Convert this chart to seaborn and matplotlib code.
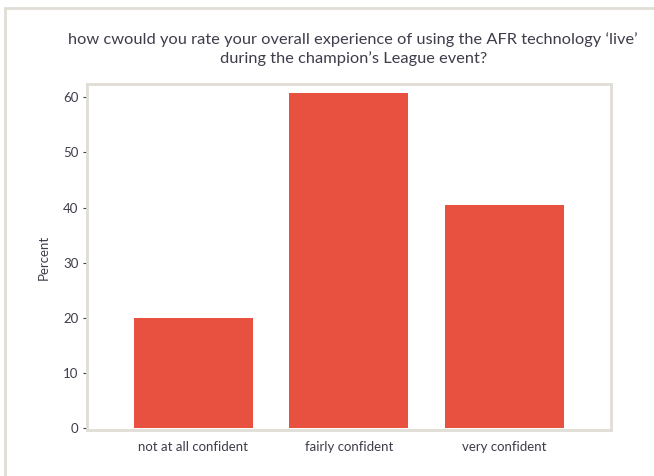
import matplotlib
matplotlib.use("Agg")
import matplotlib.pyplot as plt
import seaborn as sns
import pandas as pd
from matplotlib.lines import Line2D

categories = ["not at all confident", "fairly confident", "very confident"]
percent = [20.0, 60.7, 40.4]

bar_color = "#e85140"
frame_color = "#e0ddd6"
text_color = "#3d3d4b"

sns.set_style("white")
plt.rcParams["font.family"] = ["Lato", "DejaVu Sans"]

df = pd.DataFrame({"answer": categories, "Percent": percent})

fig = plt.figure(figsize=(6.54, 4.76), dpi=100)
ax = fig.add_axes([0.133, 0.0966, 0.801, 0.727])

sns.barplot(data=df, x="answer", y="Percent", color=bar_color, width=0.765,
            saturation=1, linewidth=0, ax=ax)

ax.set_xlim(-0.685, 2.685)
ax.set_ylim(-0.3, 62.4)
ax.set_yticks([0, 10, 20, 30, 40, 50, 60])
ax.set_xlabel("")
ax.set_ylabel("Percent", fontsize=9.5, color=text_color, labelpad=10)

for s in ax.spines.values():
    s.set_visible(True)
    s.set_color(frame_color)
    s.set_linewidth(2)

ax.tick_params(axis="y", length=3, width=0.8, color=text_color, labelsize=9.5,
               labelcolor=text_color, pad=3, left=True)
ax.tick_params(axis="x", length=0, labelsize=9.5, labelcolor=text_color, pad=8)

fig.text(0.54, 0.897, "how cwould you rate your overall experience of using the AFR technology \u2018live\u2019\nduring the champion\u2019s League event?",
         ha="center", va="center", fontsize=11.8, color=text_color, linespacing=1.4)

# outer frame of the original figure (left and top edges only visible)
fig.add_artist(Line2D([5 / 654, 5 / 654], [0, 1 - 8 / 476], transform=fig.transFigure,
                      color=frame_color, lw=2))
fig.add_artist(Line2D([5 / 654, 1], [1 - 8 / 476, 1 - 8 / 476], transform=fig.transFigure,
                      color=frame_color, lw=2))

fig.savefig("out.png", dpi=100)
